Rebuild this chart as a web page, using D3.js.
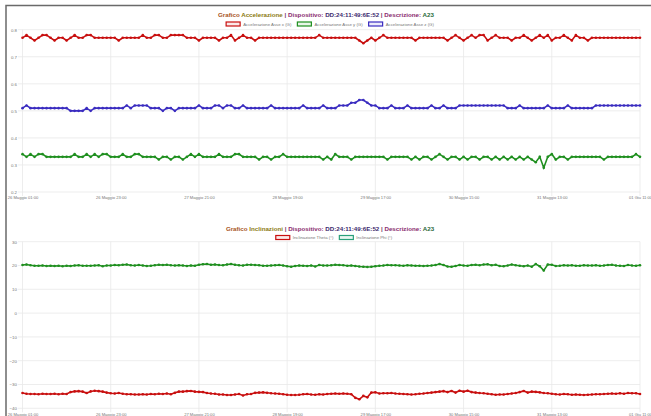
<!DOCTYPE html>
<html>
<head>
<meta charset="utf-8">
<script src="https://cdn.jsdelivr.net/npm/d3@7"></script>
<style>
  html, body { margin: 0; padding: 0; background: #fff; }
  svg { display: block; font-family: "Liberation Sans", Arial, sans-serif; }
</style>
</head>
<body>
<svg id="chart" width="651" height="416"></svg>
<script>
// Time axis: hourly samples from 26 Maggio 01:00 to 01 Giu 11:00 (154 h)
const tickHours = [0, 22, 44, 66, 88, 110, 132, 154];
const tickLabels = ["26 Maggio 01:00", "26 Maggio 23:00", "27 Maggio 21:00", "28 Maggio 19:00",
                    "29 Maggio 17:00", "30 Maggio 15:00", "31 Maggio 13:00", "01 Giu 11:00"];

// Accelerazione (G)
const accX = [
 0.77,0.78,0.77,0.76,0.77,0.78,0.78,0.77,0.76,0.77,
 0.77,0.76,0.77,0.78,0.77,0.77,0.78,0.78,0.77,0.77,
 0.77,0.77,0.77,0.77,0.76,0.77,0.77,0.77,0.77,0.77,
 0.78,0.77,0.77,0.78,0.78,0.77,0.77,0.78,0.78,0.78,
 0.78,0.77,0.77,0.77,0.76,0.77,0.77,0.77,0.77,0.76,
 0.77,0.77,0.78,0.76,0.77,0.78,0.77,0.77,0.76,0.77,
 0.77,0.77,0.77,0.77,0.77,0.77,0.77,0.77,0.77,0.77,
 0.77,0.77,0.77,0.77,0.78,0.77,0.77,0.77,0.77,0.77,
 0.77,0.77,0.77,0.77,0.76,0.75,0.76,0.77,0.76,0.77,
 0.78,0.77,0.77,0.77,0.77,0.77,0.77,0.77,0.76,0.77,
 0.77,0.77,0.77,0.77,0.77,0.77,0.76,0.77,0.78,0.77,
 0.76,0.77,0.78,0.77,0.78,0.78,0.76,0.77,0.78,0.77,
 0.77,0.77,0.76,0.77,0.77,0.78,0.77,0.76,0.77,0.78,
 0.77,0.78,0.76,0.77,0.77,0.78,0.77,0.76,0.78,0.77,
 0.77,0.76,0.77,0.77,0.77,0.77,0.77,0.77,0.77,0.77,
 0.77,0.77,0.77,0.77,0.77];
const accY = [
 0.34,0.33,0.34,0.33,0.34,0.34,0.33,0.33,0.33,0.33,
 0.33,0.33,0.33,0.34,0.33,0.33,0.34,0.33,0.34,0.33,
 0.34,0.34,0.33,0.33,0.33,0.34,0.33,0.33,0.34,0.34,
 0.33,0.33,0.33,0.33,0.32,0.33,0.33,0.32,0.33,0.33,
 0.32,0.33,0.34,0.33,0.34,0.33,0.33,0.33,0.33,0.34,
 0.33,0.33,0.33,0.34,0.34,0.33,0.33,0.33,0.33,0.32,
 0.33,0.33,0.32,0.33,0.33,0.34,0.33,0.33,0.33,0.33,
 0.33,0.33,0.33,0.33,0.33,0.32,0.33,0.32,0.34,0.33,
 0.33,0.33,0.32,0.33,0.33,0.33,0.33,0.33,0.33,0.33,
 0.33,0.32,0.33,0.33,0.33,0.33,0.33,0.32,0.33,0.32,
 0.33,0.33,0.32,0.33,0.34,0.33,0.32,0.33,0.33,0.32,
 0.33,0.32,0.33,0.33,0.32,0.33,0.33,0.32,0.33,0.32,
 0.33,0.32,0.33,0.32,0.33,0.32,0.33,0.32,0.31,0.33,
 0.29,0.33,0.34,0.32,0.33,0.33,0.32,0.33,0.33,0.33,
 0.33,0.33,0.33,0.33,0.33,0.32,0.33,0.33,0.33,0.33,
 0.33,0.33,0.33,0.34,0.33];
const accZ = [
 0.51,0.52,0.51,0.51,0.51,0.51,0.51,0.51,0.51,0.51,
 0.51,0.51,0.50,0.50,0.50,0.50,0.51,0.50,0.51,0.51,
 0.51,0.51,0.51,0.51,0.51,0.51,0.52,0.51,0.52,0.52,
 0.52,0.52,0.51,0.51,0.51,0.50,0.51,0.51,0.50,0.51,
 0.51,0.51,0.51,0.51,0.52,0.51,0.51,0.51,0.52,0.52,
 0.51,0.52,0.52,0.51,0.51,0.52,0.51,0.51,0.51,0.51,
 0.51,0.51,0.52,0.51,0.51,0.51,0.51,0.51,0.51,0.51,
 0.52,0.51,0.51,0.51,0.51,0.52,0.51,0.51,0.51,0.52,
 0.52,0.52,0.53,0.53,0.54,0.54,0.53,0.52,0.52,0.51,
 0.51,0.51,0.52,0.51,0.51,0.51,0.52,0.51,0.51,0.51,
 0.51,0.51,0.52,0.51,0.51,0.52,0.51,0.51,0.51,0.52,
 0.52,0.52,0.52,0.52,0.52,0.52,0.52,0.52,0.52,0.52,
 0.52,0.51,0.51,0.51,0.52,0.51,0.51,0.51,0.51,0.51,
 0.51,0.52,0.51,0.51,0.51,0.51,0.52,0.51,0.51,0.51,
 0.51,0.51,0.51,0.52,0.52,0.52,0.52,0.52,0.52,0.52,
 0.52,0.52,0.52,0.52,0.52];

// Inclinazioni (°)
const theta = [
 -33.6,-33.9,-34.0,-34.0,-34.1,-33.9,-34.0,-34.0,-33.9,-34.1,
 -33.9,-34.0,-33.2,-32.9,-32.8,-33.0,-33.6,-32.9,-32.6,-32.8,
 -33.0,-33.4,-33.7,-33.8,-33.6,-33.9,-34.1,-34.1,-34.2,-34.2,
 -34.1,-34.2,-34.0,-34.1,-33.9,-34.0,-33.8,-34.1,-33.5,-33.0,
 -33.0,-32.8,-32.7,-33.0,-33.1,-33.2,-33.6,-33.8,-33.9,-34.2,
 -34.2,-34.4,-34.4,-34.2,-34.0,-34.6,-34.1,-34.0,-33.5,-33.4,
 -33.3,-33.5,-33.7,-33.8,-33.9,-34.1,-34.3,-34.4,-34.4,-34.3,
 -34.1,-34.0,-34.2,-34.3,-34.1,-34.2,-34.0,-33.9,-33.8,-33.9,
 -33.8,-33.9,-34.1,-35.6,-36.2,-34.8,-35.4,-33.4,-33.3,-33.8,
 -33.7,-33.7,-33.6,-33.8,-33.9,-34.0,-34.1,-34.2,-34.1,-33.9,
 -33.8,-33.6,-33.4,-33.2,-33.0,-32.8,-33.2,-32.7,-33.4,-32.6,
 -33.0,-32.6,-33.2,-33.4,-33.6,-33.7,-33.9,-34.1,-34.3,-34.2,
 -34.2,-34.0,-33.8,-33.6,-33.2,-32.7,-33.4,-33.0,-33.1,-33.3,
 -33.6,-33.7,-33.9,-34.1,-34.2,-34.0,-34.1,-34.3,-34.2,-34.3,
 -34.4,-34.3,-34.2,-34.1,-34.1,-34.0,-33.9,-33.8,-33.9,-33.7,
 -33.9,-33.6,-33.7,-33.7,-34.0];
const phi = [
 20.2,20.4,20.1,19.9,19.9,20.0,19.8,19.9,19.8,19.9,
 19.7,19.9,19.8,20.0,20.1,19.9,19.9,19.9,20.0,20.1,
 19.7,20.0,20.0,20.2,20.1,20.3,20.4,20.1,20.0,20.2,
 20.0,19.8,19.9,20.1,20.3,20.2,20.3,20.1,20.0,20.1,
 20.0,19.8,20.0,19.9,20.3,20.5,20.6,20.3,20.4,20.2,
 20.1,20.4,20.6,20.3,20.1,20.0,20.3,20.3,20.2,20.1,
 19.9,19.9,20.0,20.1,20.2,20.0,19.7,19.5,19.8,20.0,
 19.9,19.8,20.0,19.6,20.2,20.0,20.0,20.1,20.3,20.2,
 20.1,19.9,20.0,19.8,19.6,19.5,19.4,19.5,19.7,19.9,
 20.0,20.2,20.1,20.1,20.0,19.9,20.1,20.0,19.9,19.9,
 19.8,19.9,20.0,20.2,20.6,20.2,19.6,19.5,19.8,20.2,
 20.0,19.9,20.2,20.3,20.1,20.4,20.5,20.1,20.3,19.8,
 19.7,20.0,20.4,20.1,19.9,19.7,20.0,19.5,20.6,19.7,
 17.9,20.4,20.3,19.8,19.9,20.1,20.0,20.1,19.9,19.9,
 20.1,20.0,20.0,20.1,19.9,20.0,20.2,20.3,20.0,19.9,
 19.8,20.2,20.0,19.9,20.1];

const accTicks = [0.8, 0.7, 0.6, 0.5, 0.4, 0.3, 0.2];
const incTicks = [30, 20, 10, 0, -10, -20, -30, -40];

const RED = "#c80f0f", GREEN = "#1f8f1f", BLUE = "#3a2cc0";

const svg = d3.select("#chart");

// Panel frame
svg.append("path")
  .attr("d", "M6,416 V5.5 H651")
  .attr("fill", "none").attr("stroke", "#6a6a6a").attr("stroke-width", 1.5);

const x = d3.scaleLinear().domain([0, 154]).range([22.5, 640]);

function titleText(g, cx, cy, word) {
  const t = g.append("text").attr("x", cx).attr("y", cy)
    .attr("text-anchor", "middle").attr("font-size", 6.2).attr("font-weight", "bold");
  const parts = [
    ["Grafico ", "#a8541c"], [word, "#8c7a12"], [" | ", "#7a3a6a"],
    ["Dispositivo: ", "#8a2a6e"], ["DD:24:11:49:6E:52", "#3c2a6e"], [" | ", "#7a3a6a"],
    ["Descrizione: ", "#8a2a6e"], ["A23", "#2a6a3a"]
  ];
  parts.forEach(([s, c]) => t.append("tspan").attr("fill", c).text(s));
}

function legend(g, cx, cy, items) {
  const lg = g.append("g");
  let xpos = 0;
  items.forEach(it => {
    const item = lg.append("g").attr("transform", `translate(${xpos},0)`);
    item.append("rect").attr("x", 0).attr("y", cy - 2).attr("width", 14).attr("height", 4)
      .attr("fill", it.fill).attr("stroke", it.color).attr("stroke-width", 1.2);
    const tx = item.append("text").attr("x", 17).attr("y", cy + 1.5)
      .attr("font-size", 4.3).attr("fill", "#777").text(it.label);
    xpos += 17 + tx.node().getComputedTextLength() + 6;
  });
  const w = xpos - 6;
  lg.attr("transform", `translate(${cx - w / 2},0)`);
}

function panel(opts) {
  const g = svg.append("g");
  const y = d3.scaleLinear().domain(opts.domain).range([opts.bottom, opts.top]);

  // horizontal grid + y labels
  const ya = d3.axisLeft(y).tickValues(opts.yTicks).tickSize(0).tickPadding(0)
    .tickFormat(opts.fmt);
  const yg = g.append("g").attr("transform", "translate(17,0)").call(ya);
  yg.select(".domain").remove();
  yg.selectAll("text").attr("font-size", 4.4).attr("fill", "#777")
    .attr("font-family", "Liberation Sans, Arial, sans-serif");
  g.append("g").selectAll("line").data(opts.yTicks).join("line")
    .attr("x1", 18).attr("x2", 640).attr("y1", d => y(d)).attr("y2", d => y(d))
    .attr("stroke", "#e8e8e8").attr("stroke-width", 0.8);

  // vertical grid + x labels
  g.append("g").selectAll("line").data(tickHours).join("line")
    .attr("x1", d => x(d)).attr("x2", d => x(d))
    .attr("y1", opts.top).attr("y2", opts.bottom + 4)
    .attr("stroke", "#e8e8e8").attr("stroke-width", 0.8);
  const xa = d3.axisBottom(x).tickValues(tickHours).tickSize(0).tickPadding(0)
    .tickFormat((d, i) => tickLabels[i]);
  const xg = g.append("g").attr("transform", `translate(0,${opts.bottom + 4.5})`).call(xa);
  xg.select(".domain").remove();
  xg.selectAll("text").attr("font-size", 4.1).attr("fill", "#777")
    .attr("font-family", "Liberation Sans, Arial, sans-serif");

  // series
  opts.series.forEach(s => {
    const line = d3.line().x((d, i) => x(i)).y(d => y(d));
    g.append("path").datum(s.values).attr("d", line)
      .attr("fill", "none").attr("stroke", s.color).attr("stroke-width", 1.6);
    g.append("g").selectAll("circle").data(s.values).join("circle")
      .attr("cx", (d, i) => x(i)).attr("cy", d => y(d)).attr("r", 1.3)
      .attr("fill", s.color);
  });

  titleText(g, opts.titleX, opts.titleY, opts.word);
  legend(g, opts.titleX + 4, opts.legendY, opts.series.map(s => ({
    color: s.legendColor || s.color, fill: s.legendFill, label: s.label })));
}

panel({
  domain: [0.2, 0.8], top: 29.7, bottom: 192, yTicks: accTicks, fmt: d3.format(".1f"),
  word: "Accelerazione", titleX: 326, titleY: 17, legendY: 24,
  series: [
    { values: accX, color: RED, legendFill: "#fbe9e9", label: "Accelerazione Asse x (G)" },
    { values: accY, color: GREEN, legendFill: "#e9f6e9", label: "Accelerazione Asse y (G)" },
    { values: accZ, color: BLUE, legendFill: "#ecebfb", label: "Accelerazione Asse z (G)" }
  ]
});

panel({
  domain: [-40, 30], top: 241.7, bottom: 408.3, yTicks: incTicks, fmt: d3.format("d"),
  word: "Inclinazioni", titleX: 330, titleY: 231, legendY: 237.5,
  series: [
    { values: theta, color: RED, legendFill: "#fbe9e9", label: "Inclinazione Theta (°)" },
    { values: phi, color: GREEN, legendColor: "#2aa07a", legendFill: "#eaf7f2", label: "Inclinazione Phi (°)" }
  ]
});
</script>
</body>
</html>
